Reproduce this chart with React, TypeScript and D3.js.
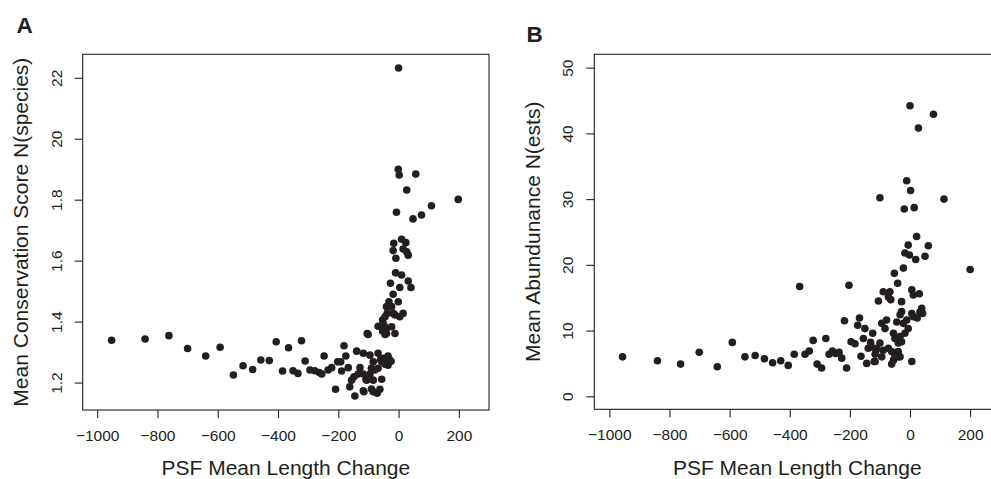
import React, { useEffect, useRef } from 'react';
import * as d3 from 'd3';

// panel A: PSF mean length change vs mean conservation score
const lengthChangeA = [
  -952, -841, -762, -700, -640, -592, -548, -516, -484, -457, -429, -406, -385, -365, -350, -334, -322, -310,
  -294, -278, -263, -255, -247, -234, -222, -209, -202, -192, -189, -181, -175, -167, -162, -156, -148, -145,
  -139, -134, -128, -117, -115, -108, -104, -95, -90,
  -117, -95, -79, -106, -84, -56, -117, -62, -84, -71, -68, -35, -84, -56, -35, -90, -68, -35, -50, -30, -45,
  -60, -25, -101,
  -68, -45, -23, -40, -12, -53, -45, -40, -53, -38, -12, 15, 4, -23, -32, -1, -18, 4, 41, -27, 32, -10, 10, -9,
  -18, 15, 27, 32, -16, 10, 24, 48, 76, 109, -7, 198, 27, 57, 2, -1, 0, -40, -18, -45, -51,
];
const conservation = [
  1.339, 1.343, 1.354, 1.312, 1.287, 1.316, 1.225, 1.255, 1.243, 1.274, 1.272, 1.334, 1.238, 1.314, 1.239, 1.23,
  1.337, 1.271, 1.241, 1.239, 1.233, 1.228, 1.287, 1.241, 1.249, 1.178, 1.268, 1.268, 1.238, 1.321, 1.287, 1.249,
  1.186, 1.208, 1.219, 1.156, 1.303, 1.228, 1.249, 1.296, 1.17, 1.211, 1.361, 1.29, 1.179,
  1.228, 1.228, 1.241, 1.208, 1.208, 1.211, 1.173, 1.178, 1.17, 1.165, 1.296, 1.287, 1.268, 1.268, 1.268, 1.247,
  1.247, 1.257, 1.28, 1.275, 1.26, 1.275, 1.27, 1.358,
  1.385, 1.383, 1.383, 1.361, 1.361, 1.369, 1.358, 1.378, 1.405, 1.427, 1.422, 1.427, 1.416, 1.449, 1.465, 1.465,
  1.49, 1.512, 1.512, 1.526, 1.533, 1.56, 1.553, 1.608, 1.633, 1.638, 1.629, 1.618, 1.657, 1.67, 1.659, 1.737,
  1.75, 1.78, 1.759, 1.801, 1.832, 1.884, 1.881, 1.9, 2.232, 1.449, 1.427, 1.416, 1.394,
];

// panel B: PSF mean length change vs mean abundance
const lengthChangeB = [
  -956, -840, -763, -701, -641, -591, -549, -515, -484, -457, -430, -405, -385, -367, -349, -335, -322, -309,
  -294, -280, -269, -258, -247, -236, -227, -218, -211, -203, -196, -183, -174, -168, -163, -155, -150, -144,
  -139, -131, -124, -119, -113, -105, -100,
  -89, -67, -72, -64, -94, -78, -83, -44, -22, -11, -6, -17, -33, -55, -50, -39, -28, -128, -100, -111, -89, -72,
  -61, -50, -39, -55, -39, -116, -94, -116, -61, -33, -28, -28, -33, -52, -41, -22, -19, -17, -11, -6, -2, 0, 2,
  6, 6, 6, 11, 11, 14, 19, 22, 28, 24, 31, 39, 33, 42, 50, 61, 78, 113, 200,
];
const abundance = [
  6.0, 5.4, 4.9, 6.7, 4.5, 8.2, 6.0, 6.2, 5.7, 5.1, 5.4, 4.7, 6.4, 16.7, 6.4, 6.9, 8.5, 4.9, 4.3, 8.8, 6.4, 6.9,
  6.5, 6.7, 5.8, 11.5, 4.3, 16.9, 8.3, 8.0, 10.8, 11.9, 6.1, 8.8, 10.3, 5.0, 7.3, 8.2, 9.6, 5.3, 7.0, 14.5, 30.2,
  15.9, 15.9, 15.1, 14.7, 11.1, 11.6, 10.3, 11.3, 11.1, 11.6, 10.3, 9.6, 9.1, 9.6, 8.8, 8.1, 8.3, 7.5, 8.1, 7.3,
  7.0, 7.3, 6.8, 6.3, 6.8, 5.5, 6.0, 6.4, 6.0, 5.3, 4.9, 6.0, 14.4, 12.9, 12.4, 18.7, 17.2, 19.5, 28.5, 21.8,
  32.8, 23.0, 21.5, 44.2, 31.3, 16.2, 5.3, 12.6, 12.1, 15.4, 28.7, 20.8, 24.3, 40.8, 11.9, 15.6, 13.4, 12.8,
  12.6, 21.3, 22.9, 42.9, 30.0, 19.3,
];

const xTicks = [-1000, -800, -600, -400, -200, 0, 200];
const consTicks = [1.2, 1.4, 1.6, 1.8, 2.0, 2.2];
const consTickLabels = ['1.2', '1.4', '1.6', '1.8', '20', '22'];
const abundTicks = [0, 10, 20, 30, 40, 50];
const abundTickLabels = ['0', '10', '20', '30', '40', '50'];

const FONT = "'Liberation Sans', Arial, Helvetica, sans-serif";
const INK = '#231f20';

export default function App() {
  const ref = useRef<HTMLDivElement>(null);

  useEffect(() => {
    draw();
    // eslint-disable-next-line react-hooks/exhaustive-deps
  }, []);

  function panel(svg, opt) {
    const { xs, ys, xDomain, xRange, yDomain, yRange, yTicks, yLabels, yTitle, letter, letterPos } = opt;
    const x = d3.scaleLinear().domain(xDomain).range(xRange);
    const y = d3.scaleLinear().domain(yDomain).range(yRange);
    const g = svg.append('g');

    g.append('rect')
      .attr('x', xRange[0])
      .attr('y', yRange[1])
      .attr('width', xRange[1] - xRange[0])
      .attr('height', yRange[0] - yRange[1])
      .attr('fill', 'none')
      .attr('stroke', INK)
      .attr('stroke-width', 1.1);

    const xAxis = d3
      .axisBottom(x)
      .tickValues(xTicks)
      .tickSize(8)
      .tickPadding(11.5)
      .tickFormat((d) => (d < 0 ? '\u2212' + Math.abs(d) : String(d)));
    const xg = g.append('g').attr('transform', `translate(0,${yRange[0]})`).call(xAxis);
    xg.select('.domain').remove();
    xg.selectAll('line').attr('stroke', INK).attr('stroke-width', 1.1);
    xg.selectAll('text').attr('fill', INK).style('font-size', '15.5px').style('font-family', FONT);

    const yAxis = d3
      .axisLeft(y)
      .tickValues(yTicks)
      .tickSize(8)
      .tickFormat((d, i) => yLabels[i]);
    const yg = g.append('g').attr('transform', `translate(${xRange[0]},0)`).call(yAxis);
    yg.select('.domain').remove();
    yg.selectAll('line').attr('stroke', INK).attr('stroke-width', 1.1);
    yg.selectAll('text')
      .attr('fill', INK)
      .attr('x', 0)
      .attr('y', -21)
      .attr('dy', 0)
      .attr('transform', 'rotate(-90)')
      .attr('text-anchor', 'middle')
      .style('font-size', '15.5px')
      .style('font-family', FONT);

    g.selectAll('circle')
      .data(xs.map((v, i) => [v, ys[i]]))
      .enter()
      .append('circle')
      .attr('cx', (d) => x(d[0]))
      .attr('cy', (d) => y(d[1]))
      .attr('r', 3.8)
      .attr('fill', INK);

    const cx = (xRange[0] + xRange[1]) / 2;
    const cy = (yRange[0] + yRange[1]) / 2;
    g.append('text')
      .text('PSF Mean Length Change')
      .attr('x', cx)
      .attr('y', 475)
      .attr('text-anchor', 'middle')
      .attr('fill', INK)
      .style('font-size', '21px')
      .style('font-family', FONT);
    g.append('text')
      .text(yTitle)
      .attr('transform', `translate(${xRange[0] - 54.4},${cy}) rotate(-90)`)
      .attr('text-anchor', 'middle')
      .attr('fill', INK)
      .style('font-size', '21px')
      .style('font-family', FONT);
    g.append('text')
      .text(letter)
      .attr('x', letterPos[0])
      .attr('y', letterPos[1])
      .attr('fill', INK)
      .style('font-size', '22.5px')
      .style('font-weight', 'bold')
      .style('font-family', FONT);
  }

  function draw() {
    d3.select(ref.current).select('svg').remove();
    const svg = d3
      .select(ref.current)
      .append('svg')
      .attr('width', 991)
      .attr('height', 479)
      .style('position', 'absolute')
      .style('left', 0)
      .style('top', 0)
      .style('background', '#fff');

    panel(svg, {
      xs: lengthChangeA,
      ys: conservation,
      xDomain: [-1048, 300],
      xRange: [82.7, 489],
      yDomain: [1.11, 2.277],
      yRange: [410, 54.3],
      yTicks: consTicks,
      yLabels: consTickLabels,
      yTitle: 'Mean Conservation Score N(species)',
      letter: 'A',
      letterPos: [16.5, 33],
    });
    panel(svg, {
      xs: lengthChangeB,
      ys: abundance,
      xDomain: [-1050, 300],
      xRange: [594.3, 1000.2],
      yDomain: [-1.98, 52.03],
      yRange: [409.3, 54.3],
      yTicks: abundTicks,
      yLabels: abundTickLabels,
      yTitle: 'Mean Abundunance N(ests)',
      letter: 'B',
      letterPos: [526.5, 42],
    });
  }

  return <div className='chart' ref={ref}></div>;
}
